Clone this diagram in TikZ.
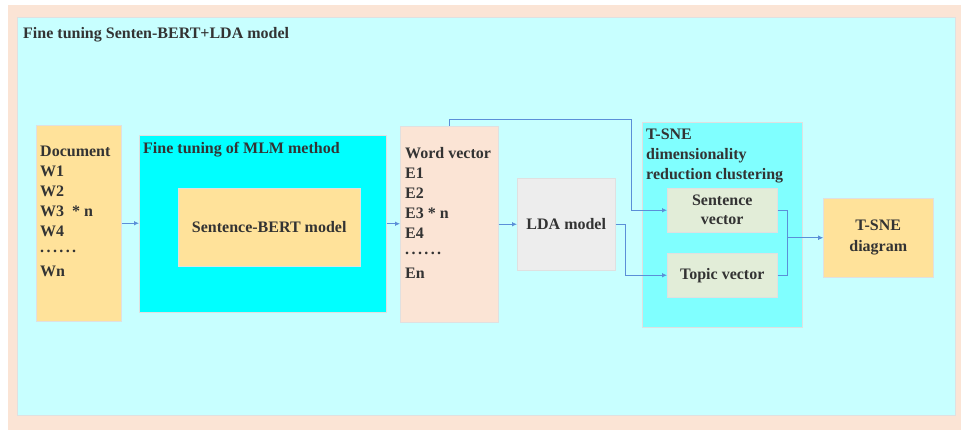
\documentclass[tikz,border=0pt]{standalone}
\usepackage{fontspec}
\setmainfont{Liberation Serif}
\usetikzlibrary{arrows.meta}

\definecolor{peach}{HTML}{FBE4D5}
\definecolor{palecyan}{HTML}{C8FFFF}
\definecolor{brightcyan}{HTML}{00FFFF}
\definecolor{midcyan}{HTML}{80FFFF}
\definecolor{gold}{HTML}{FFE29A}
\definecolor{softgrey}{HTML}{EDEDED}
\definecolor{sage}{HTML}{E2EDD8}
\definecolor{flowblue}{HTML}{5B8FD8}
\definecolor{ink}{HTML}{333333}

% a row of six raised dots
\newcommand{\dotrow}{\raisebox{4pt}{.\hspace{2.4pt}.\hspace{2.4pt}.\hspace{2.4pt}.\hspace{2.4pt}.\hspace{2.4pt}.}}

\tikzset{
  box/.style={draw=black!12, line width=0.5pt, inner sep=0pt, anchor=north west},
  txt/.style={font=\bfseries\fontsize{16}{20}\selectfont, text=ink, inner sep=0pt},
  flow/.style={draw=flowblue, line width=0.8pt, -{Latex[length=5pt,width=4.5pt]}},
}

\begin{document}
\begin{tikzpicture}[x=1pt,y=-1pt]
\useasboundingbox (0,0) rectangle (961,430);
\fill[white] (0,0) rectangle (961,430);

% outer frame and main panel
\fill[peach] (8,5) rectangle (961,430);
\node[box, fill=palecyan, minimum width=938pt, minimum height=398pt] (panel) at (17,17) {};
\node[txt, anchor=base west] (paneltitle) at (23,39) {Fine tuning Senten-BERT+LDA model};

% input document
\node[box, fill=gold, minimum width=85pt, minimum height=196pt] (doc) at (36,125) {};
\node[txt, anchor=north west, align=left] (doctext) at (40,146)
  {Document\\W1\\W2\\W3~~* n\\W4\\\dotrow\\Wn};

% MLM fine tuning block
\node[box, fill=brightcyan, minimum width=247pt, minimum height=177pt] (mlm) at (139,135) {};
\node[txt, anchor=base west] (mlmtitle) at (143,154) {Fine tuning of MLM method};
\node[box, fill=gold, minimum width=182pt, minimum height=78pt] (sbert) at (178,188) {};
\node[txt] (sberttext) at (sbert.center) {Sentence-BERT model};

% word vectors
\node[box, fill=peach, minimum width=98pt, minimum height=196pt] (wv) at (400,126) {};
\node[txt, anchor=north west, align=left] (wvtext) at (405,147)
  {Word vector\\E1\\E2\\E3 * n\\E4\\\dotrow\\En};

% LDA
\node[box, fill=softgrey, minimum width=98pt, minimum height=92pt] (lda) at (517,178) {};
\node[txt] (ldatext) at (lda.center) {LDA model};

% T-SNE clustering block
\node[box, fill=midcyan, minimum width=160pt, minimum height=205pt] (tsne) at (642,122) {};
\node[txt, anchor=north west, align=left] (tsnetitle) at (646,129)
  {T-SNE\\dimensionality\\reduction clustering};
\node[box, fill=sage, minimum width=110pt, minimum height=44pt] (sent) at (667,188) {};
\node[txt, align=center, font=\bfseries\fontsize{16}{19}\selectfont] (senttext) at (sent.center) {Sentence\\vector};
\node[box, fill=sage, minimum width=110pt, minimum height=44pt] (topic) at (667,253) {};
\node[txt] (topictext) at (topic.center) {Topic vector};

% output
\node[box, fill=gold, minimum width=110pt, minimum height=79pt] (diag) at (823,198) {};
\node[txt, align=center, font=\bfseries\fontsize{16}{21}\selectfont] (diagtext) at (diag.center) {T-SNE\\diagram};

% connectors
\draw[flow] (doc.east) -- (mlm.west |- doc.east);
\draw[flow] (mlm.east) -- (wv.west |- mlm.east);
\draw[flow] (wv.east |- lda.west) -- (lda.west);
\draw[flow] (lda.east) -- ++(10,0) |- (topic.west);
\coordinate (riser) at ([xshift=-36pt]sent.west);
\draw[flow] (wv.north) -- ++(0,-7) -| (riser) -- (sent.west);
\draw[flow] (sent.east) -- ++(10,0) |- (diag.west);
\draw[flow] (topic.east) -- ++(10,0) |- (diag.west);
\end{tikzpicture}
\end{document}
